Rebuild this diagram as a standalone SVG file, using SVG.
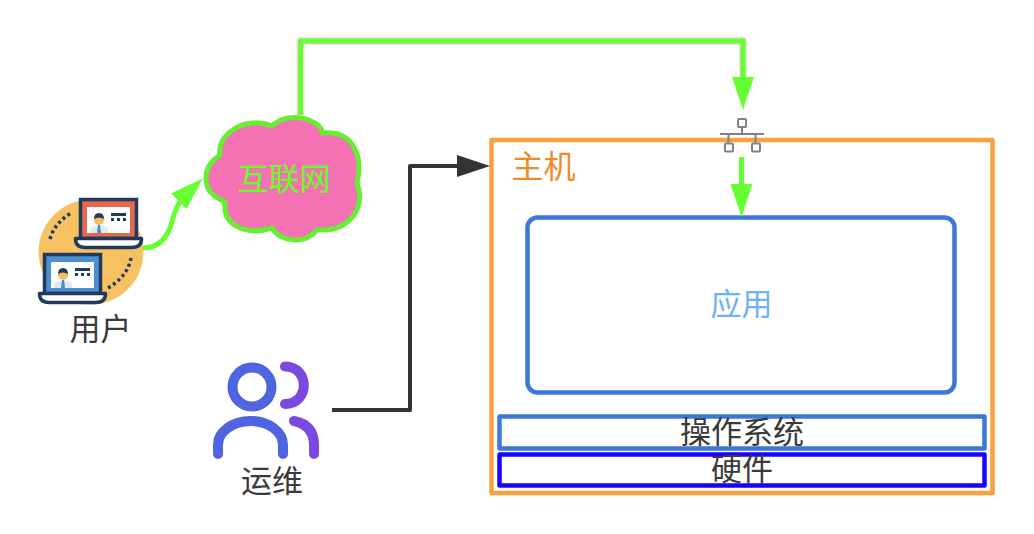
<svg xmlns="http://www.w3.org/2000/svg" width="1034" height="534" viewBox="0 0 1034 534">
<style>
text{font-family:"Noto Sans CJK SC","Liberation Sans",sans-serif;font-size:31px;fill:#3a3a3a;text-anchor:middle}
.conn{fill:none;stroke-linejoin:round}
.green{stroke:#66ff33;stroke-width:5}
.box{fill:#fff;stroke-width:4.500;stroke-linejoin:round}
.dots{fill:none;stroke:#1f3a5a;stroke-width:3.500;stroke-dasharray:3 3}
.net{fill:#fff;stroke:#808088;stroke-width:2}
.blue{fill:none;stroke:#4f64e0;stroke-width:10;stroke-linecap:round}
.purple{fill:none;stroke:#7b48e0;stroke-width:10;stroke-linecap:round}
</style>
<defs>
<marker id="ag" markerUnits="userSpaceOnUse" markerWidth="34" markerHeight="24" refX="12" refY="11" orient="auto"><path d="M0 0L33 11L0 22Z" fill="#66ff33"/></marker>
<marker id="ab" markerUnits="userSpaceOnUse" markerWidth="34" markerHeight="24" refX="12" refY="11" orient="auto"><path d="M0 0L33 11L0 22Z" fill="#333"/></marker>
<g id="laptop">
<rect x="15" y="10" width="43" height="26" fill="#fff"/>
<path d="M18 36V32Q20 29 27 28Q35 29 36 32V36Z" fill="#e4e8ec"/>
<path d="M26 28h2l1 8h-4z" fill="#3f8fd0"/>
<circle cx="27" cy="23" r="5" fill="#f6bd60"/>
<path d="M22 22Q22 16 27 16Q32 16 32 22Q27 19 22 22Z" fill="#1f3a5a"/>
<path d="M39 16h15v3h-15zM39 21h3v3h-3zM45 21h3v3h-3zM51 21h3v3h-3z" fill="#1f3a5a"/>
<path d="M3.500 41.500H69.500Q69.500 50.500 60 50.500H13Q3.500 50.500 3.500 41.500Z" fill="#fff" stroke="#1f3a5a" stroke-width="3.500" stroke-linejoin="round"/>
</g>
</defs>
<g id="host"><rect class="box" x="491.500" y="140" width="501" height="353" stroke="#f9a03f"/><text x="543.500" y="178" style="fill:#f08a24;font-size:32px">主机</text></g>
<g id="users">
<circle cx="91" cy="252" r="52.500" fill="#f6c161"/>
<path class="dots" d="M50 239C53 228 60 220 71 213"/>
<path class="dots" d="M131 258C129 270 120 282 106 289"/>
<g transform="translate(72 197)"><rect x="8.500" y="2.500" width="56" height="39" fill="#e4694f" stroke="#1f3a5a" stroke-width="3.500"/><use href="#laptop"/></g>
<g transform="translate(36 252)"><rect x="8.500" y="2.500" width="56" height="39" fill="#4a90d0" stroke="#1f3a5a" stroke-width="3.500"/><use href="#laptop"/></g>
<text x="100.500" y="340">用户</text>
</g>
<g id="internet">
<path d="M206 178C206 168 212 160 220 155C216 135 245 115 272 126C285 112 318 116 323 133C352 130 364 155 357 183C366 205 352 232 317 230C305 245 280 242 272 228C245 236 222 225 225 202C212 196 206 190 206 178Z" fill="#f472b3" stroke="#66ee33" stroke-width="5"/>
<text x="284" y="190" style="fill:#66ff22">互联网</text>
</g>
<g id="ops">
<circle class="blue" cx="252" cy="387" r="19.500"/>
<path class="purple" d="M285 366.500C310 366.500 310 404 285 404"/>
<path class="blue" d="M218 454V445A32.500 24 0 0 1 283 445V454"/>
<path class="purple" d="M294 421Q314 425 314 445V454"/>
<text x="272" y="492">运维</text>
</g>
<g id="network">
<path fill="none" stroke="#808088" stroke-width="2" d="M720 134H764M742 127V134M728.500 134V143M755.500 134V143"/>
<rect class="net" x="738" y="119" width="8" height="8" rx="1"/>
<rect class="net" x="725" y="143.500" width="8" height="8" rx="1"/>
<rect class="net" x="752" y="143.500" width="8" height="8" rx="1"/>
</g>
<g id="app"><rect class="box" x="527.500" y="217.500" width="427" height="175" rx="10" stroke="#3c78d8"/><text x="741.500" y="315" style="fill:#6fb1f5">应用</text></g>
<g id="os"><rect class="box" x="499.500" y="416.500" width="485" height="32" stroke="#3c78d8"/><text x="742" y="443">操作系统</text></g>
<g id="hw"><rect class="box" x="499.500" y="454.500" width="485" height="31" stroke="#1a00ff"/><text x="742" y="480">硬件</text></g>
<g id="connectors">
<path class="conn green" d="M143 248C160 248 168 236 172 222C175 210 178 202 187.500 193" marker-end="url(#ag)"/>
<path class="conn" stroke="#e8b8c0" stroke-width="8" d="M300.500 115V41H743V88" opacity=".55"/>
<path class="conn green" d="M300.500 115V41H743V89" marker-end="url(#ag)"/>
<path class="conn green" d="M741.500 157V196" marker-end="url(#ag)"/>
<path class="conn" stroke="#333" stroke-width="4" d="M332 410H410V166H469" marker-end="url(#ab)"/>
</g>
</svg>
